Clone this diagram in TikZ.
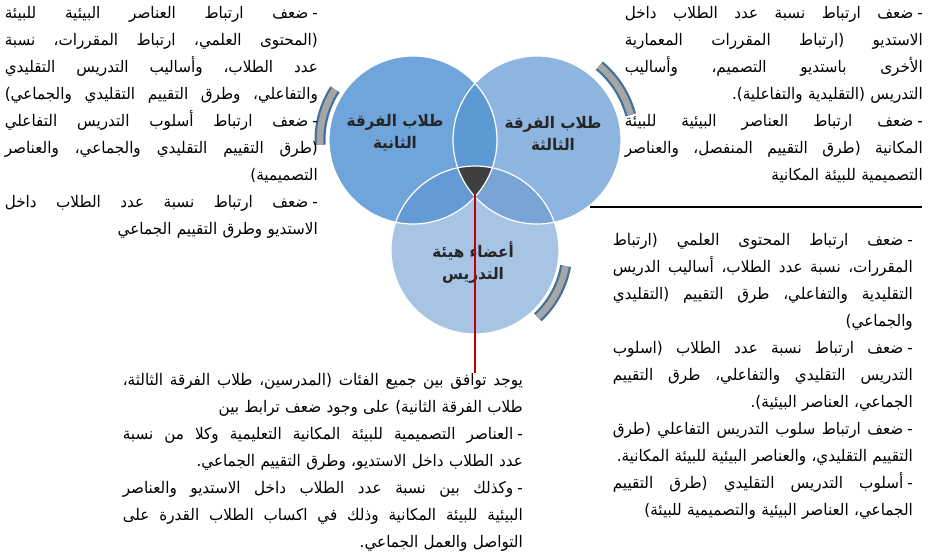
\documentclass[tikz,border=0pt]{standalone}
\usepackage{fontspec}
\newfontfamily\arabicfont[Script=Arabic,FakeStretch=0.95]{DejaVu Sans}
\TeXXeTstate=1

\definecolor{leftblue}{HTML}{6FA5DB}
\definecolor{rightblue}{HTML}{8EB5E0}
\definecolor{lowblue}{HTML}{A8C4E5}
\definecolor{lrblue}{HTML}{5C9AD4}
\definecolor{lbblue}{HTML}{659BD5}
\definecolor{rbblue}{HTML}{78A4D6}
\definecolor{wedgegray}{HTML}{3F3F3F}
\definecolor{bracketgray}{HTML}{A6A6A6}
\definecolor{bracketblue}{HTML}{41719C}
\definecolor{linkred}{HTML}{C00000}

% one printed line, right to left: justified, or flush right at a paragraph end
\newcommand\fullline[1]{\hbox to \hsize{\spaceskip=0.3em plus 1em minus 0.12em\beginR #1\endR}}
\newcommand\lastline[1]{\hbox to \hsize{\hfill\beginR #1\endR}}
\newcommand\rtldash{-\kern4pt\relax}

\tikzset{
  note/.style={anchor=north east, inner sep=0pt,
    font=\arabicfont\fontsize{16}{27}\selectfont},
  circlabel/.style={align=center, inner sep=0pt, text=black!85,
    font=\arabicfont\bfseries\fontsize{16}{22}\selectfont},
  bracketedge/.style={bracketblue, line width=11pt},
  bracketfill/.style={bracketgray, line width=6.5pt},
}

\begin{document}
\begin{tikzpicture}[x=1pt,y=1pt]
    \useasboundingbox (0,0) rectangle (931,-558);

    \coordinate (cL) at (413,-140);
    \coordinate (cR) at (537,-140);
    \coordinate (cB) at (475,-250);

    % circles
    \fill[leftblue] (cL) circle (84);
    \fill[rightblue] (cR) circle (84);
    \fill[lowblue] (cB) circle (84);
    \begin{scope}
        \clip (cL) circle (84);
        \fill[lrblue] (cR) circle (84);
        \fill[lbblue] (cB) circle (84);
    \end{scope}
    \begin{scope}
        \clip (cR) circle (84);
        \fill[rbblue] (cB) circle (84);
    \end{scope}
    \begin{scope}
        \clip (cL) circle (84);
        \clip (cR) circle (84);
        \fill[wedgegray] (cB) circle (84);
    \end{scope}
    \draw[white, line width=1.2pt] (cL) circle (84);
    \draw[white, line width=1.2pt] (cR) circle (84);
    \draw[white, line width=1.2pt] (cB) circle (84);

    % brackets
    \draw[bracketedge] ([shift={(147:93)}]cL) arc[start angle=147, end angle=183, radius=93];
    \draw[bracketfill] ([shift={(147:93)}]cL) arc[start angle=147, end angle=183, radius=93];
    \draw[bracketedge] ([shift={(15:97)}]cR) arc[start angle=15, end angle=50, radius=97];
    \draw[bracketfill] ([shift={(15:97)}]cR) arc[start angle=15, end angle=50, radius=97];
    \draw[bracketedge] ([shift={(-47:92)}]cB) arc[start angle=-47, end angle=-10, radius=92];
    \draw[bracketfill] ([shift={(-47:92)}]cB) arc[start angle=-47, end angle=-10, radius=92];

    % labels
    \node[circlabel] (second) at (395,-133) {\beginR طلاب الفرقة\endR\\\beginR الثانية\endR};
    \node[circlabel] (third) at (553,-133) {\beginR طلاب الفرقة\endR\\\beginR الثالثة\endR};
    \node[circlabel] (staff) at (473,-262) {\beginR أعضاء هيئة\endR\\\beginR التدريس\endR};

    % notes
    \node[note, text width=313pt] (secondnote) at (318,-6) {%
        \fullline{\rtldash ضعف ارتباط العناصر البيئية للبيئة}
        \fullline{(المحتوى العلمي، ارتباط المقررات، نسبة}
        \fullline{عدد الطلاب، وأساليب التدريس التقليدي}
        \fullline{والتفاعلي، وطرق التقييم التقليدي والجماعي)}
        \fullline{\rtldash ضعف ارتباط أسلوب التدريس التفاعلي}
        \fullline{(طرق التقييم التقليدي والجماعي، والعناصر}
        \lastline{التصميمية)}
        \fullline{\rtldash ضعف ارتباط نسبة عدد الطلاب داخل}
        \lastline{الاستديو وطرق التقييم الجماعي}};
    \node[note, text width=298pt] (thirdnote) at (923,-6) {%
        \fullline{\rtldash ضعف ارتباط نسبة عدد الطلاب داخل}
        \fullline{الاستديو (ارتباط المقررات المعمارية}
        \fullline{الأخرى باستديو التصميم، وأساليب}
        \lastline{التدريس (التقليدية والتفاعلية).}
        \fullline{\rtldash ضعف ارتباط العناصر البيئية للبيئة}
        \fullline{المكانية (طرق التقييم المنفصل، والعناصر}
        \lastline{التصميمية للبيئة المكانية}};
    \node[note, text width=300pt] (staffnote) at (913,-233) {%
        \fullline{\rtldash ضعف ارتباط المحتوى العلمي (ارتباط}
        \fullline{المقررات، نسبة عدد الطلاب، أساليب الدريس}
        \fullline{التقليدية والتفاعلي، طرق التقييم (التقليدي}
        \lastline{والجماعي)}
        \fullline{\rtldash ضعف ارتباط نسبة عدد الطلاب (اسلوب}
        \fullline{التدريس التقليدي والتفاعلي، طرق التقييم}
        \lastline{الجماعي، العناصر البيئية).}
        \fullline{\rtldash ضعف ارتباط سلوب التدريس التفاعلي (طرق}
        \lastline{التقييم التقليدي، والعناصر البيئية للبيئة المكانية.}
        \fullline{\rtldash أسلوب التدريس التقليدي (طرق التقييم}
        \lastline{الجماعي، العناصر البيئية والتصميمية للبيئة)}};
    \node[note, text width=400pt] (allnote) at (523,-373) {\fontsize{16}{26.5}\selectfont
        \fullline{يوجد توافق بين جميع الفئات (المدرسين، طلاب الفرقة الثالثة،}
        \lastline{طلاب الفرقة الثانية) على وجود ضعف ترابط بين}
        \fullline{\rtldash العناصر التصميمية للبيئة المكانية التعليمية وكلا من نسبة}
        \lastline{عدد الطلاب داخل الاستديو، وطرق التقييم الجماعي.}
        \fullline{\rtldash وكذلك بين نسبة عدد الطلاب داخل الاستديو والعناصر}
        \fullline{البيئية للبيئة المكانية وذلك في اكساب الطلاب القدرة على}
        \lastline{التواصل والعمل الجماعي.}};

    % links
    \coordinate (wedge) at (475,-194);
    \draw[linkred, line width=2.2pt] (wedge) -- (wedge |- allnote.north);
    \coordinate (rulestart) at (590,-207);
    \coordinate (ruleend) at (922,-207);
    \draw[line width=2.2pt] (rulestart) -- (ruleend);

\end{tikzpicture}
\end{document}
